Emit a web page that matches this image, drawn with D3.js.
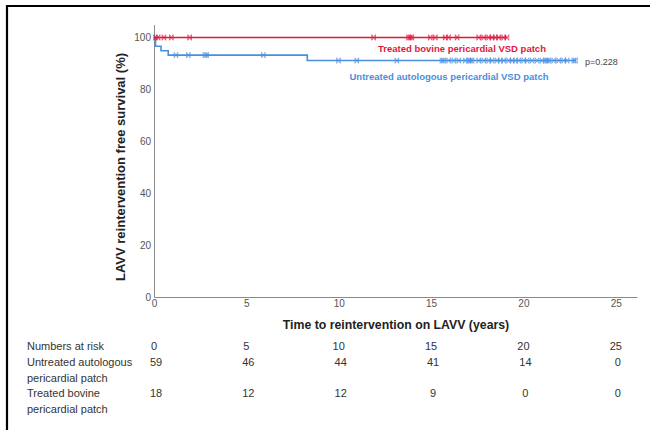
<!DOCTYPE html>
<html>
<head>
<meta charset="utf-8">
<script src="https://cdn.jsdelivr.net/npm/d3@7"></script>
<style>
  html, body { margin: 0; padding: 0; background: #fff; }
  svg { display: block; }
</style>
</head>
<body>
<svg id="chart" width="650" height="430"></svg>
<script>
// ---- data ----
const xTicks = [0, 5, 10, 15, 20, 25];
const yTicks = [0, 20, 40, 60, 80, 100];

const groupNames = ["Treated bovine pericardial VSD patch", "Untreated autologous pericardial VSD patch"];

// step curves: times where survival changes, survival after that time (%)
const treatedStepTimes = [0];
const treatedStepSurv = [100];
const treatedEnd = 19.11;
const treatedCensor = [0.08, 0.22, 0.54, 0.94, 1.93, 11.89, 13.78, 13.87, 13.96, 14.96, 15.23, 15.77, 15.95, 16.41, 17.58, 17.85, 18.12, 18.30, 18.48, 18.66, 18.93, 19.11];

const untreatedStepTimes = [0, 0.08, 0.38, 0.77, 8.3];
const untreatedStepSurv = [100, 96.6, 94.9, 93.2, 91.1];
const untreatedEnd = 22.82;
const untreatedCensor = [1.19, 1.86, 2.76, 2.85, 5.92, 9.99, 10.98, 13.15, 15.59, 15.68, 15.95, 16.23, 16.50, 16.86, 17.04, 17.13, 17.22, 17.58, 17.85, 18.12, 18.30, 18.57, 18.75, 18.93, 19.20, 19.39, 19.57, 19.75, 20.02, 20.20, 20.47, 20.74, 21.01, 21.19, 21.28, 21.37, 21.64, 21.91, 22.18, 22.37, 22.73, 22.82];

const pValueLabel = "p=0.228";

const riskTimes = [0, 5, 10, 15, 20, 25];
const riskRowLabels = [["Numbers at risk"], ["Untreated autologous", "pericardial patch"], ["Treated bovine", "pericardial patch"]];
const untreatedRisk = [59, 46, 44, 41, 14, 0];
const treatedRisk = [18, 12, 12, 9, 0, 0];

// ---- drawing ----
const svg = d3.select("#chart");
const red = "#e0163e";
const blue = "#4a8fdc";
const font = "'Liberation Sans', Arial, sans-serif";

// outer frame (cut at right/bottom)
svg.append("path")
  .attr("d", "M7,432 L7,6 L652,6")
  .attr("fill", "none").attr("stroke", "#000").attr("stroke-width", 2.2);

const x = d3.scaleLinear().domain([0, 26.15]).range([154, 637]);
const y = d3.scaleLinear().domain([0, 105]).range([297, 24.5]);

// axes
const xAxis = svg.append("g").attr("transform", `translate(0,${y(0)})`)
  .call(d3.axisBottom(x).tickValues(xTicks).tickSize(0).tickPadding(3).tickSizeOuter(0));
const yAxis = svg.append("g").attr("transform", `translate(${x(0)},0)`)
  .call(d3.axisLeft(y).tickValues(yTicks).tickSize(0).tickPadding(3).tickSizeOuter(0));
[xAxis, yAxis].forEach(g => {
  g.select(".domain").attr("stroke", "#8a8a8a").attr("stroke-width", 1);
  g.selectAll("text").attr("fill", "#555").style("font-family", font).style("font-size", "10px");
});

// axis titles
svg.append("text")
  .attr("x", 396).attr("y", 329)
  .attr("text-anchor", "middle")
  .style("font-family", font).style("font-size", "12.3px").style("font-weight", "bold")
  .attr("fill", "#222")
  .text("Time to reintervention on LAVV (years)");
svg.append("text")
  .attr("transform", `translate(125,167) rotate(-90)`)
  .attr("text-anchor", "middle")
  .style("font-family", font).style("font-size", "13px").style("font-weight", "bold")
  .attr("fill", "#222")
  .text("LAVV reintervention free survival (%)");

// step curves
function stepPoints(times, surv, end) {
  const pts = [];
  times.forEach((t, i) => {
    if (i > 0) pts.push([t, surv[i - 1]]);
    pts.push([t, surv[i]]);
  });
  pts.push([end, surv[surv.length - 1]]);
  return pts;
}
function survAt(times, surv, t) {
  let s = surv[0];
  times.forEach((tt, i) => { if (tt <= t) s = surv[i]; });
  return s;
}
const line = d3.line().x(d => x(d[0])).y(d => y(d[1]));

function drawGroup(times, surv, end, censor, color) {
  svg.append("path")
    .attr("d", line(stepPoints(times, surv, end)))
    .attr("fill", "none").attr("stroke", color).attr("stroke-width", 1.6);
  svg.append("g").selectAll("path").data(censor).join("path")
    .attr("transform", d => `translate(${x(d)},${y(survAt(times, surv, d))})`)
    .attr("d", "M-1.8,-2.8 L1.8,2.8 M1.8,-2.8 L-1.8,2.8 M-1.8,-2.8 L-1.8,2.8 M1.8,-2.8 L1.8,2.8")
    .attr("fill", "none").attr("stroke", color).attr("stroke-width", 0.8).attr("opacity", 0.8);
}
drawGroup(untreatedStepTimes, untreatedStepSurv, untreatedEnd, untreatedCensor, blue);
drawGroup(treatedStepTimes, treatedStepSurv, treatedEnd, treatedCensor, red);

// group labels
svg.append("text")
  .attr("x", 462).attr("y", 52).attr("text-anchor", "middle")
  .style("font-family", font).style("font-size", "9.5px").style("font-weight", "bold")
  .attr("fill", red).text(groupNames[0]);
svg.append("text")
  .attr("x", 449).attr("y", 80).attr("text-anchor", "middle")
  .style("font-family", font).style("font-size", "9.5px").style("font-weight", "bold")
  .attr("fill", blue).text(groupNames[1]);
svg.append("text")
  .attr("x", 585).attr("y", 65)
  .style("font-family", font).style("font-size", "9px")
  .attr("fill", "#444").text(pValueLabel);

// numbers at risk table
const rowY = [350, 366, 397];
const tableFont = "11px";
riskRowLabels.forEach((lines, r) => {
  lines.forEach((txt, j) => {
    svg.append("text")
      .attr("x", 27).attr("y", rowY[r] + j * 15.5)
      .style("font-family", font).style("font-size", tableFont)
      .attr("fill", "#333").text(txt);
  });
});
const riskRows = [riskTimes, untreatedRisk, treatedRisk];
riskRows.forEach((vals, r) => {
  svg.append("g").selectAll("text").data(vals).join("text")
    .attr("x", (d, i) => x(riskTimes[i]) + (r === 0 ? 0 : 2))
    .attr("y", rowY[r])
    .attr("text-anchor", "middle")
    .style("font-family", font).style("font-size", tableFont)
    .attr("fill", "#333").text(d => d);
});
</script>
</body>
</html>
